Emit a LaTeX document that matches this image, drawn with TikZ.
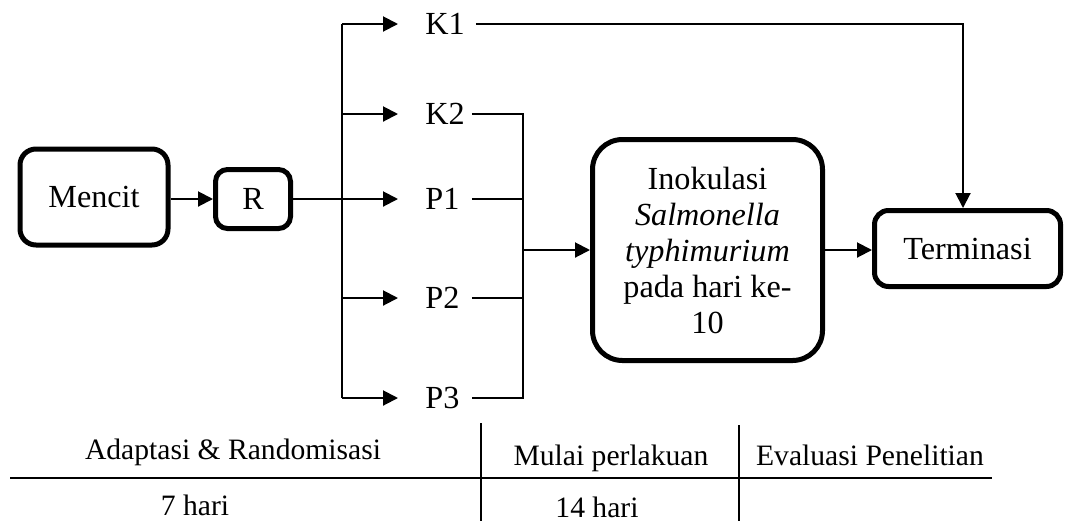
\documentclass[tikz,border=0pt]{standalone}
\usepackage{fontspec}
\setmainfont{Liberation Serif}
\usetikzlibrary{arrows.meta}
\newcommand\diagfont{\fontsize{16.1pt}{18pt}\selectfont}
\newcommand\tblfont{\fontsize{14.8pt}{17pt}\selectfont}
\tikzset{
  box/.style={draw, line width=2.5pt, inner sep=0pt, align=center, font=\diagfont},
  lbl/.style={inner sep=0pt, anchor=west, text width=23pt, align=left, font=\diagfont},
  ln/.style={line width=1pt},
  arr/.style={line width=1pt, -{Triangle[length=7.5pt,width=7.5pt]}},
  tbl/.style={inner sep=0pt, anchor=base, font=\tblfont}
}
\begin{document}
\begin{tikzpicture}[x=0.5pt,y=-0.5pt]
\useasboundingbox (0,0) rectangle (1065,521);
% boxes
\node[box, rounded corners=8pt, minimum width=74pt, minimum height=48pt] (mencit) at (94,197) {Mencit};
\node[box, rounded corners=6pt, minimum width=37.5pt, minimum height=29.5pt] (r) at (253,199) {R};
\node[box, rounded corners=15pt, minimum width=115pt, minimum height=110.5pt] (inok) at (707.5,250)
  {Inokulasi\\ \textit{Salmonella}\\ \textit{typhimurium}\\ pada hari ke-\\ 10};
\node[box, rounded corners=7pt, minimum width=93pt, minimum height=38pt] (term) at (967.5,248.5) {Terminasi};
% labels
\node[lbl] (k1) at (425,24) {K1};
\node[lbl] (k2) at (425,114) {K2};
\node[lbl] (p1) at (425,199) {P1};
\node[lbl] (p2) at (425,298) {P2};
\node[lbl] (p3) at (425,398) {P3};
% branch coordinates
\coordinate (vt) at (342,24);
\coordinate (vb) at (342,398);
\coordinate (c) at (523,250);
% connectors
\draw[arr] (mencit.east |- r.west) -- (r.west);
\draw[arr, shorten >=13.5pt] (r.east) -- (p1.west);
\draw[ln] (vt) -- (vb);
\draw[arr, shorten >=13.5pt] (vt) -- (k1.west);
\draw[arr, shorten >=13.5pt] (vt |- k2.west) -- (k2.west);
\draw[arr, shorten >=13.5pt] (vb |- p2.west) -- (p2.west);
\draw[arr, shorten >=13.5pt] (vb) -- (p3.west);
\draw[arr, shorten <=2pt] (k1.east) -| ([xshift=-2.25pt]term.north);
\draw[ln] (k2.east) -- (k2.east -| c) -- (p3.east -| c) -- (p3.east);
\draw[ln] (p1.east) -- (p1.east -| c);
\draw[ln] (p2.east) -- (p2.east -| c);
\draw[arr] (c) -- (inok.west);
\draw[arr] (inok.east) -- (inok.east -| term.west);
% table
\coordinate (hl) at (10,478);
\coordinate (hr) at (992,478);
\coordinate (v1t) at (481,423);
\coordinate (v1b) at (481,521);
\coordinate (v2t) at (739,425);
\coordinate (v2b) at (739,521);
\draw[ln] (hl) -- (hr);
\draw[ln] (v1t) -- (v1b);
\draw[ln] (v2t) -- (v2b);
\node[tbl] (t1) at (233,459) {Adaptasi \& Randomisasi};
\node[tbl] (t2) at (611,465) {Mulai perlakuan};
\node[tbl] (t3) at (870,465) {Evaluasi Penelitian};
\node[tbl] (t4) at (195,515) {7 hari};
\node[tbl] (t5) at (597,517) {14 hari};
\end{tikzpicture}
\end{document}
